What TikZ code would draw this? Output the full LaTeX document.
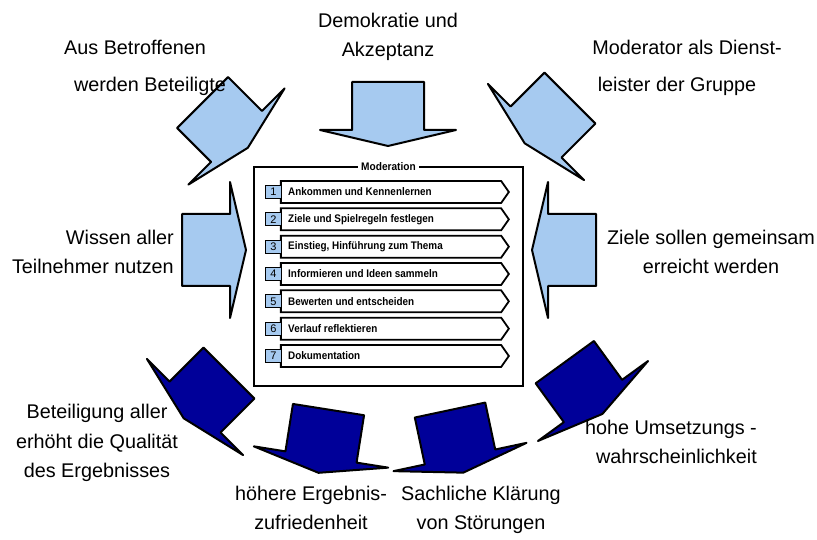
\documentclass[tikz,border=0pt]{standalone}
\usepackage{fontspec}
\setmainfont{Liberation Sans}
\usetikzlibrary{shapes.symbols}
\definecolor{hellblau}{RGB}{166,202,240}
\definecolor{dunkelblau}{RGB}{0,0,153}
\newcommand{\blockpfeil}[4]{%
  \filldraw[pfeilrand, fill=#4, shift={(#1,#2)}, rotate=#3]
    (-48,-36) -- (0,-36) -- (0,-68) -- (16,0) -- (0,68) -- (0,36) -- (-48,36) -- cycle;}

\begin{document}
\begin{tikzpicture}[x=1pt, y=-1pt,
  pfeilrand/.style={draw=black, line width=2pt, line join=round},
  beschriftung/.style={font=\fontsize{19.8}{29.5}\selectfont, align=center, inner sep=0pt},
  zeile/.style={signal, signal to=east, signal pointer angle=110, draw, line width=1.8pt,
    fill=white, minimum width=228pt, minimum height=22pt, inner sep=0pt},
  nummer/.style={draw, line width=1pt, fill=hellblau, minimum width=16pt,
    minimum height=13pt, inner sep=0pt, font=\fontsize{11}{12}\selectfont},
  eintrag/.style={font=\fontsize{11}{12}\selectfont\bfseries, anchor=west, inner sep=0pt}]
  \useasboundingbox (0,0) rectangle (817,540);
  \blockpfeil{236.5}{136.5}{-45}{hellblau}
  \blockpfeil{388}{130}{-90}{hellblau}
  \blockpfeil{536}{132}{-135}{hellblau}
  \blockpfeil{230}{250}{0}{hellblau}
  \blockpfeil{548}{250}{180}{hellblau}
  \blockpfeil{195}{407}{-135}{dunkelblau}
  \blockpfeil{321}{457}{-99}{dunkelblau}
  \blockpfeil{460}{457}{-78}{dunkelblau}
  \blockpfeil{593}{401}{-54}{dunkelblau}
  \node[draw, line width=1.3pt, minimum width=269pt, minimum height=219pt] (rahmen) at (388.5,276.5) {};
  \node[fill=white, inner sep=3pt, font=\fontsize{11}{12}\selectfont\bfseries] (titel) at (rahmen.north) {\scalebox{0.92}[1]{Moderation}};
  \foreach \i/\wort in {1/Ankommen und Kennenlernen, 2/Ziele und Spielregeln festlegen,
      3/{Einstieg, Hinführung zum Thema}, 4/Informieren und Ideen sammeln,
      5/Bewerten und entscheiden, 6/Verlauf reflektieren, 7/Dokumentation} {
    \node[zeile] (z\i) at (391,{164.67+27.33*\i}) {};
    \node[nummer] (n\i) at (273.5,{164.67+27.33*\i}) {\i};
    \node[eintrag] (e\i) at (288,{164.67+27.33*\i}) {\scalebox{0.9}[1]{\wort}};
  }
  \node[beschriftung] (betroffene1) at (135,47) {Aus Betroffenen};
  \node[beschriftung] (betroffene2) at (150,86) {werden Beteiligte};
  \node[beschriftung] (demokratie) at (388,37) {Demokratie und\\Akzeptanz};
  \node[beschriftung] (moderator1) at (687,47) {Moderator als Dienst-};
  \node[beschriftung] (moderator2) at (677,86) {leister der Gruppe};
  \node[beschriftung, align=right, anchor=east] (wissen) at (174,252) {Wissen aller\\Teilnehmer nutzen};
  \node[beschriftung] (ziele) at (711,252) {Ziele sollen gemeinsam\\erreicht werden};
  \node[beschriftung] (beteiligung) at (97,443) {Beteiligung aller\\erhöht die Qualität\\des Ergebnisses};
  \node[beschriftung] (zufriedenheit) at (311,508) {höhere Ergebnis-\\zufriedenheit};
  \node[beschriftung] (klaerung) at (481,510) {Sachliche Klärung\\von Störungen};
  \node[beschriftung, align=right, anchor=east] (umsetzung) at (757,442) {hohe Umsetzungs -\\wahrscheinlichkeit};
\end{tikzpicture}
\end{document}
